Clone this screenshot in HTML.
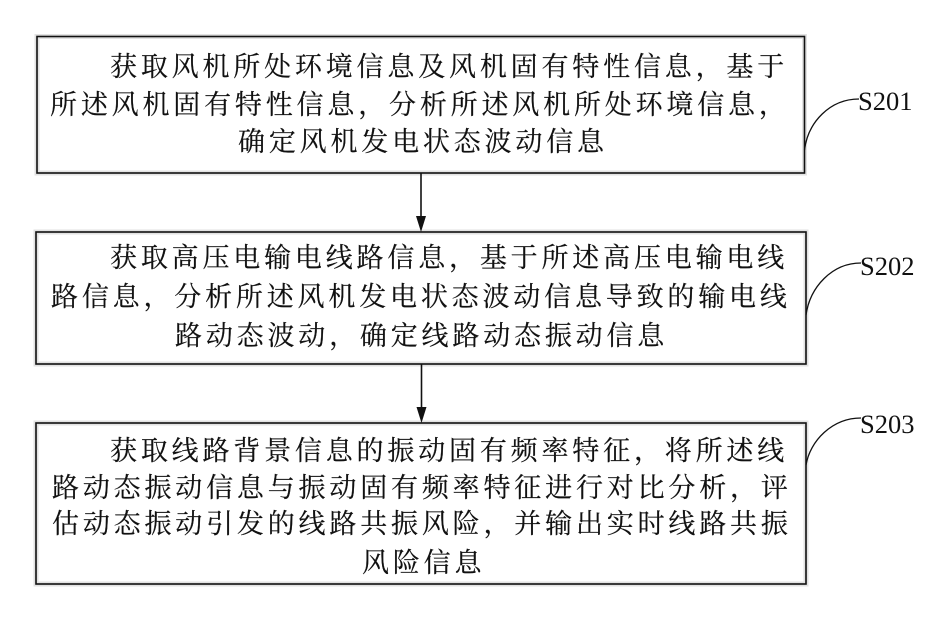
<!DOCTYPE html>
<html lang="zh">
<head>
<meta charset="utf-8">
<style>
html,body{margin:0;padding:0;background:#fff;}
#p{position:relative;width:931px;height:632px;overflow:hidden;background:#fff;}
svg{position:absolute;left:0;top:0;}
.t{font-family:"Liberation Serif","Noto Serif CJK SC",serif;font-size:27px;fill:#111;stroke:#111;stroke-width:.2px;letter-spacing:3.82px;}
.s{font-family:"Liberation Serif",serif;font-size:26.500px;fill:#111;}
</style>
</head>
<body>
<div id="p">
<svg width="931" height="632" viewBox="0 0 931 632" xmlns="http://www.w3.org/2000/svg">
<g fill="none" stroke="#e2e2e2" stroke-width="5">
<rect x="37" y="36.5" width="767.5" height="136.5"/>
<rect x="36" y="232" width="770" height="132"/>
<rect x="36" y="423" width="770" height="161"/>
</g>
<g fill="none" stroke="#111" stroke-width="1.6">
<rect x="37" y="36.5" width="767.5" height="136.5"/>
<rect x="36" y="232" width="770" height="132"/>
<rect x="36" y="423" width="770" height="161"/>
<path d="M421 173V218"/>
<path d="M421.5 364V409"/>
<path d="M804.5 150C808 122 830 99 859 99" stroke-width="1.3"/>
<path d="M806 315C810 287 832 263 861 263" stroke-width="1.3"/>
<path d="M806 465C810 441 832 418 861 418" stroke-width="1.3"/>
</g>
<path d="M416 216H426L421 232Z" fill="#111"/>
<path d="M416.500 407H426.500L421.500 423Z" fill="#111"/>
<text class="t" x="110" y="76">获取风机所处环境信息及风机固有特性信息，基于</text>
<text class="t" x="50" y="114">所述风机固有特性信息，分析所述风机所处环境信息，</text>
<text class="t" x="238" y="151">确定风机发电状态波动信息</text>
<text class="t" x="110" y="267">获取高压电输电线路信息，基于所述高压电输电线</text>
<text class="t" x="51" y="306">路信息，分析所述风机发电状态波动信息导致的输电线</text>
<text class="t" x="175" y="345">路动态波动，确定线路动态振动信息</text>
<text class="t" x="110" y="460">获取线路背景信息的振动固有频率特征，将所述线</text>
<text class="t" x="52" y="497">路动态振动信息与振动固有频率特征进行对比分析，评</text>
<text class="t" x="52" y="533">估动态振动引发的线路共振风险，并输出实时线路共振</text>
<text class="t" x="362" y="572">风险信息</text>
<text class="s" x="858" y="110">S201</text>
<text class="s" x="860" y="275">S202</text>
<text class="s" x="860" y="433">S203</text>
</svg>
</div>
</body>
</html>
